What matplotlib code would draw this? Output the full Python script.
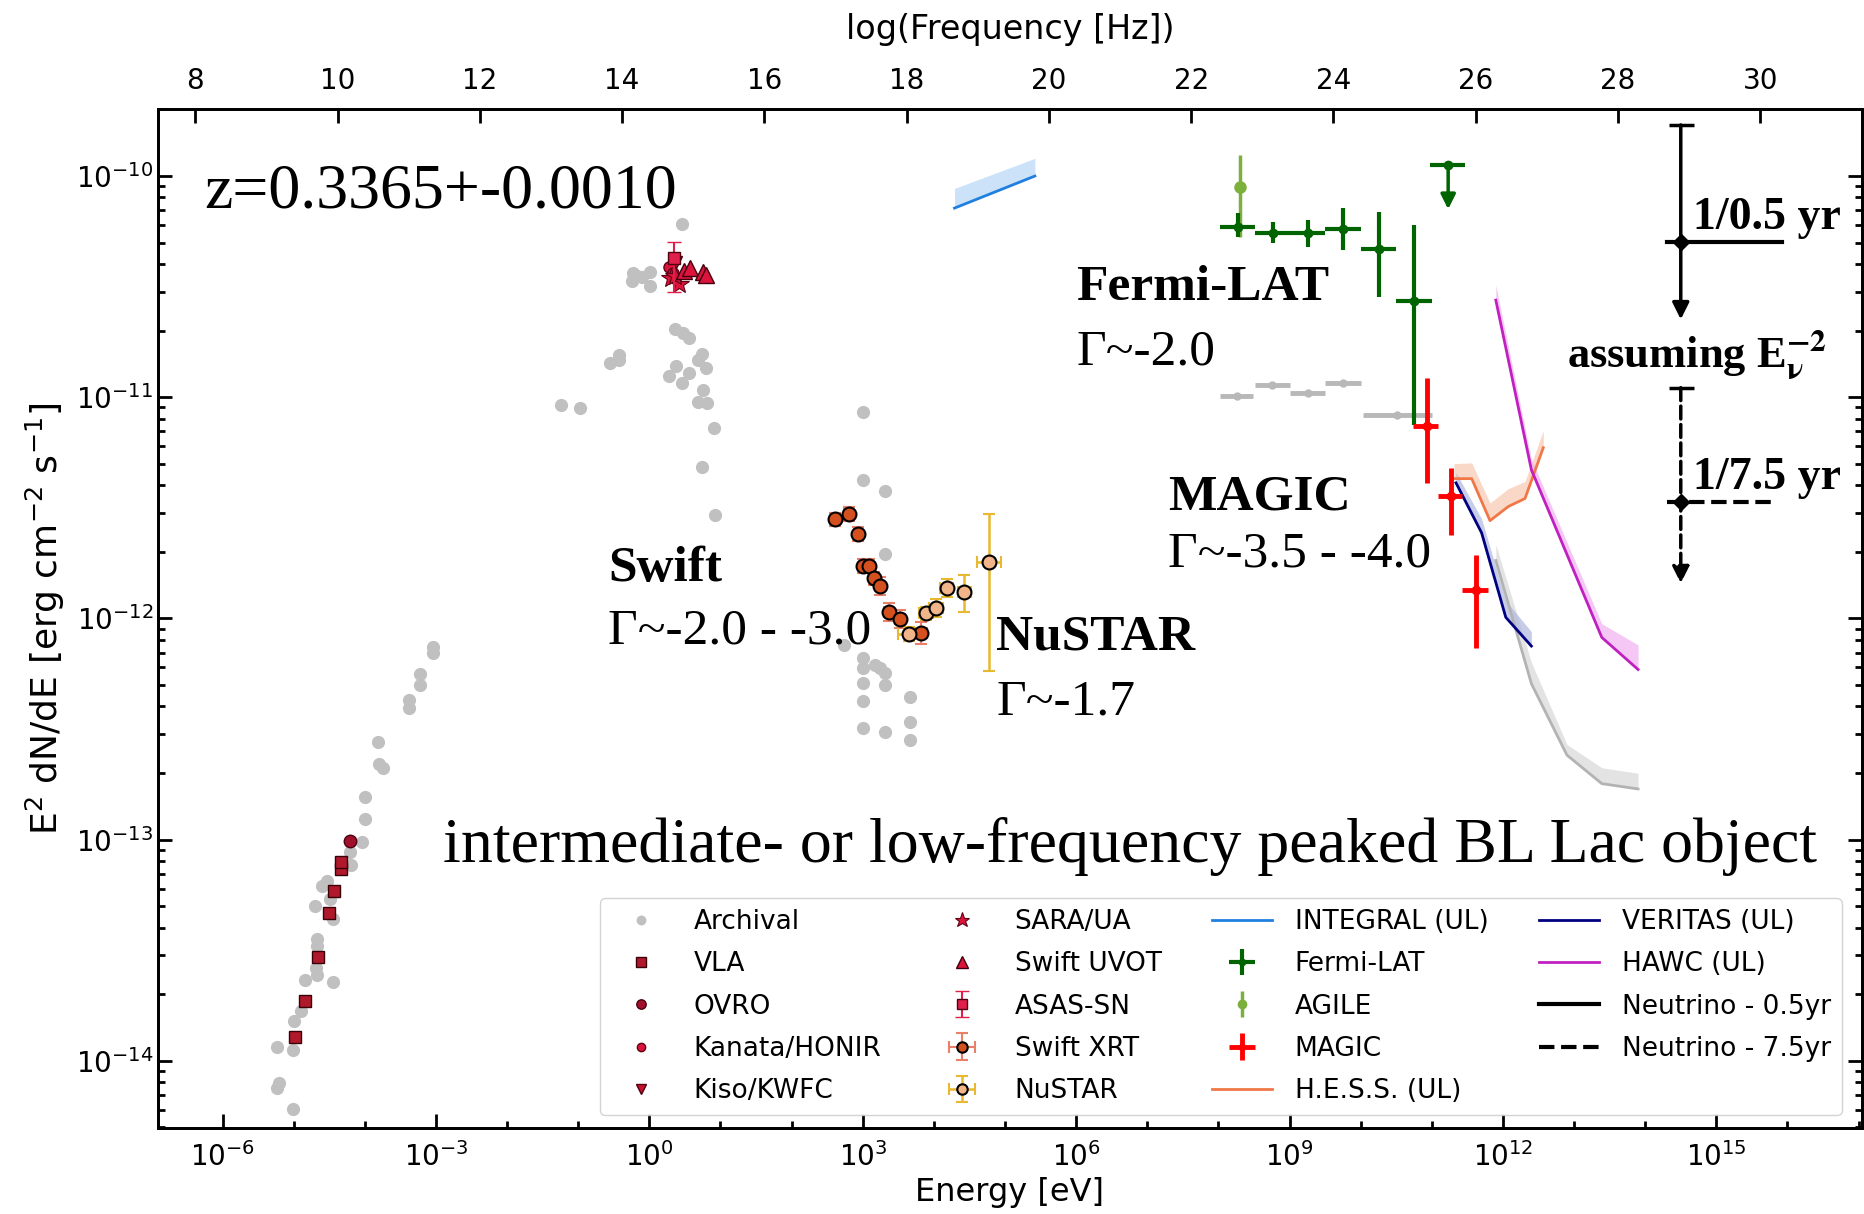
import numpy as np
import matplotlib
matplotlib.use("Agg")
import matplotlib.pyplot as plt

plt.rcParams['font.family'] = ['DejaVu Sans']

# ---- data (log10 E[eV], log10 E^2dN/dE) ----
arch_logE = [-3.046, -3.046, -3.225, -3.225, -3.384, -3.384, -3.815, -3.806, -3.740, -3.993,
             -3.993, -4.040, -4.209, -4.190, -4.603, -4.697, -4.453, -4.537, -4.49, -4.678,
             -4.678, -4.692, -4.678, -4.453, -4.837, -4.903, -4.997, -5.240, -5.015, -5.203,
             -5.240, -5.015,
             0.463, -0.226, -0.108, 0.008, 0.008, -0.249, -0.17, 0.36, 0.48, 0.56,
             0.735, 0.687, 0.80, -0.554, -0.432, -0.432, 0.37, 0.276, 0.463, 0.557,
             0.749, 0.687, 0.805, -1.247, -0.976, 0.913, 0.741, 0.922,
             3.007, 3.007, 3.317, 3.317, 2.736, 3.007, 3.007, 3.172, 3.242, 3.317,
             3.007, 3.317, 3.007, 3.664, 3.664, 3.007, 3.317, 3.664]
arch_logF = [-12.127, -12.158, -12.251, -12.302, -12.369, -12.403, -12.558, -12.659, -12.678, -12.809,
             -12.907, -13.012, -13.054, -13.113, -13.209, -13.299, -13.361, -13.186, -13.27, -13.450,
             -13.481, -13.581, -13.612, -13.643, -13.636, -13.775, -13.822, -13.938, -13.950, -14.101,
             -14.124, -14.217,
             -10.218, -10.440, -10.458, -10.433, -10.497, -10.473, -10.45, -10.693, -10.708, -10.734,
             -10.805, -10.832, -10.869, -10.847, -10.809, -10.832, -10.859, -10.904, -10.934, -10.892,
             -10.967, -11.020, -11.028, -11.037, -11.050, -11.141, -11.314, -11.533,
             -11.066, -11.374, -11.423, -11.709, -12.120, -12.178, -12.226, -12.211, -12.226, -12.248,
             -12.291, -12.301, -12.372, -12.357, -12.467, -12.497, -12.512, -12.550]

vla_logE = [-4.987, -4.842, -4.659, -4.509, -4.429, -4.340, -4.340]
vla_logF = [-13.891, -13.729, -13.530, -13.330, -13.233, -13.132, -13.101]
ovro_logE = [-4.209]
ovro_logF = [-13.008]
kanata_logE = [0.28, 0.33]
kanata_logF = [-10.41, -10.44]
kiso_logE = [0.38]
kiso_logF = [-10.39]
sara_logE = [0.30, 0.42, 0.36]
sara_logF = [-10.46, -10.49, -10.45]
uvot_logE = [0.49, 0.57, 0.75, 0.80]
uvot_logF = [-10.43, -10.417, -10.433, -10.448]
asas_logE = [0.35]
asas_logF = [-10.37]
asas_lo = [-10.523]
asas_hi = [-10.297]

xrt_logE = [2.614, 2.802, 2.928, 3.007, 3.092, 3.162, 3.242, 3.364, 3.523, 3.818]
xrt_logF = [-11.552, -11.528, -11.618, -11.763, -11.763, -11.819, -11.854, -11.970, -12.004, -12.065]
xrt_dF = [0.03, 0.03, 0.03, 0.03, 0.03, 0.03, 0.04, 0.04, 0.04, 0.05]
xrt_dE = [0.06, 0.06, 0.05, 0.05, 0.05, 0.05, 0.05, 0.06, 0.07, 0.08]

nu_logE = [3.654, 3.889, 4.029, 4.180, 4.428, 4.775]
nu_logF = [-12.071, -11.977, -11.954, -11.864, -11.879, -11.746]
nu_dF_lo = [0.03, 0.03, 0.04, 0.04, 0.09, 0.49]
nu_dF_hi = [0.03, 0.03, 0.04, 0.04, 0.075, 0.22]
nu_dE = [0.16, 0.10, 0.10, 0.09, 0.09, 0.17]

integral_logE = [4.29, 5.42]
integral_logF = [-10.145, -10.0]
integral_hi = [-10.056, -9.92]

fermi_logE = [8.271, 8.763, 9.259, 9.755, 10.257, 10.749]
fermi_logF = [-10.232, -10.256, -10.256, -10.238, -10.331, -10.565]
fermi_Elo = [8.022, 8.514, 9.01, 9.50, 10.0, 10.5]
fermi_Ehi = [8.514, 9.01, 9.50, 10.0, 10.5, 11.0]
fermi_Flo = [-10.277, -10.304, -10.320, -10.335, -10.546, -11.127]
fermi_Fhi = [-10.169, -10.207, -10.199, -10.146, -10.161, -10.222]
fermi_ul_logE = [11.23]
fermi_ul_logF = [-9.95]
fermi_ul_Elo = [10.98]
fermi_ul_Ehi = [11.47]
fermi_ul_tip = [-10.15]

agile_logE = [8.30]
agile_logF = [-10.05]
agile_Flo = [-10.274]
agile_Fhi = [-9.905]

fgrey_logE = [8.257, 8.757, 9.259, 9.755, 10.515]
fgrey_logF = [-10.995, -10.945, -10.982, -10.937, -11.08]
fgrey_Elo = [8.022, 8.514, 9.01, 9.50, 10.03]
fgrey_Ehi = [8.49, 9.0, 9.50, 10.0, 11.0]

magic_logE = [10.928, 11.265, 11.617]
magic_logF = [-11.131, -11.445, -11.872]
magic_Elo = [10.74, 11.09, 11.43]
magic_Ehi = [11.09, 11.43, 11.79]
magic_Flo = [-11.388, -11.625, -12.132]
magic_Fhi = [-10.911, -11.321, -11.712]

hess_logE = [11.312, 11.561, 11.818, 12.076, 12.310, 12.567]
hess_logF = [-11.368, -11.368, -11.558, -11.494, -11.458, -11.228]
hess_hi = [-11.300, -11.297, -11.478, -11.413, -11.381, -11.151]

veritas_logE = [11.34, 11.70, 12.04, 12.40]
veritas_logF = [-11.387, -11.613, -11.995, -12.125]
veritas_hi = [-11.34, -11.55, -11.92, -12.06]

hawc_logE = [11.90, 12.40, 13.39, 13.90]
hawc_logF = [-10.561, -11.328, -12.086, -12.231]
hawc_hi = [-10.493, -11.28, -12.024, -12.12]

sens_logE = [11.90, 12.40, 12.90, 13.39, 13.90]
sens_logF = [-11.738, -12.295, -12.618, -12.747, -12.771]
sens_hi = [-11.666, -12.199, -12.570, -12.675, -12.700]

neu_logE = [14.50, 14.50]
neu_logF = [-10.297, -11.473]
neu_top = [-9.769, -10.957]
neu_tip = [-10.648, -11.841]
neu_Elo = [14.30, 14.30]
neu_Ehi = [15.92, 15.82]
neu_labels = ['Neutrino - 0.5yr', 'Neutrino - 7.5yr']
neu_styles = ['-', '--']

def p(a):
    return 10 ** np.asarray(a, dtype=float)

fig = plt.figure(figsize=(18.65, 12.14), dpi=100)
ax = fig.add_axes([0.0847, 0.0708, 0.9137, 0.8394])
ax.set_xscale('log')
ax.set_yscale('log')

h = {}
h['Archival'] = ax.plot(p(arch_logE), p(arch_logF), 'o', color='#c0c0c0', ms=9.5, mew=0, label='Archival')[0]

# grey fermi bins (no legend entry)
x, y = p(fgrey_logE), p(fgrey_logF)
ax.errorbar(x, y, xerr=[x - p(fgrey_Elo), p(fgrey_Ehi) - x], fmt='o', color='#b8b8b8',
            ms=5, elinewidth=3.5, capsize=0)

h['VLA'] = ax.plot(p(vla_logE), p(vla_logF), 's', color='#b0182c', mec='#3a0008', mew=1, ms=9, label='VLA')[0]
h['OVRO'] = ax.plot(p(ovro_logE), p(ovro_logF), 'o', color='#a0102a', mec='#4a0010', mew=1, ms=9, label='OVRO')[0]
h['Kanata/HONIR'] = ax.plot(p(kanata_logE), p(kanata_logF), 'o', color='#dc143c', mec='#600015', mew=1, ms=8, label='Kanata/HONIR')[0]
h['Kiso/KWFC'] = ax.plot(p(kiso_logE), p(kiso_logF), 'v', color='#c8102e', mec='#500010', mew=1, ms=9, label='Kiso/KWFC')[0]
h['SARA/UA'] = ax.plot(p(sara_logE), p(sara_logF), '*', color='#dc143c', mec='#600015', mew=0.8, ms=15, label='SARA/UA')[0]
h['Swift UVOT'] = ax.plot(p(uvot_logE), p(uvot_logF), '^', color='#dc143c', mec='#400010', mew=1, ms=11, label='Swift UVOT')[0]
x, y = p(asas_logE), p(asas_logF)
h['ASAS-SN'] = ax.errorbar(x, y, yerr=[y - p(asas_lo), p(asas_hi) - y], fmt='s', color='#e0204a',
                           mec='#500010', ms=9, elinewidth=1.5, capsize=5, label='ASAS-SN')

x, y = p(xrt_logE), p(xrt_logF)
h['Swift XRT'] = ax.errorbar(x, y, yerr=[y - p(np.array(xrt_logF) - xrt_dF), p(np.array(xrt_logF) + xrt_dF) - y],
                             xerr=[x - p(np.array(xrt_logE) - xrt_dE), p(np.array(xrt_logE) + xrt_dE) - x],
                             fmt='o', color='#e8806a', mfc='#d4501e', mec='black', mew=1.5, ms=10,
                             elinewidth=1.5, capsize=4, label='Swift XRT', zorder=4)
x, y = p(nu_logE), p(nu_logF)
h['NuSTAR'] = ax.errorbar(x, y, yerr=[y - p(np.array(nu_logF) - nu_dF_lo), p(np.array(nu_logF) + nu_dF_hi) - y],
                          xerr=[x - p(np.array(nu_logE) - nu_dE), p(np.array(nu_logE) + nu_dE) - x],
                          fmt='o', color='#e8b830', mfc='#f2b58a', mec='black', mew=1.5, ms=10,
                          elinewidth=1.8, capsize=4, label='NuSTAR', zorder=4)

ax.fill_between(p(integral_logE), p(integral_logF), p(integral_hi), color='#a9d0f5', alpha=0.6, lw=0)
h['INTEGRAL (UL)'] = ax.plot(p(integral_logE), p(integral_logF), color='#1f80e0', lw=2, label='INTEGRAL (UL)')[0]

x, y = p(fermi_logE), p(fermi_logF)
h['Fermi-LAT'] = ax.errorbar(x, y, xerr=[x - p(fermi_Elo), p(fermi_Ehi) - x], yerr=[y - p(fermi_Flo), p(fermi_Fhi) - y],
                             fmt='o', color='#006400', ms=6, elinewidth=3, capsize=0, label='Fermi-LAT', zorder=5)
x, y = p(fermi_ul_logE), p(fermi_ul_logF)
ax.errorbar(x, y, xerr=[x - p(fermi_ul_Elo), p(fermi_ul_Ehi) - x], fmt='o', color='#006400', ms=6,
            elinewidth=3, capsize=0, zorder=5)
ax.annotate('', xy=(x[0], p(fermi_ul_tip)[0]), xytext=(x[0], y[0]),
            arrowprops=dict(arrowstyle='-|>', color='#006400', lw=2.5, mutation_scale=22, shrinkA=0, shrinkB=0))

x, y = p(agile_logE), p(agile_logF)
h['AGILE'] = ax.errorbar(x, y, yerr=[y - p(agile_Flo), p(agile_Fhi) - y], fmt='o', color='#7cb03c',
                         ms=8, elinewidth=2.5, capsize=0, label='AGILE', zorder=4)

x, y = p(magic_logE), p(magic_logF)
h['MAGIC'] = ax.errorbar(x, y, xerr=[x - p(magic_Elo), p(magic_Ehi) - x], yerr=[y - p(magic_Flo), p(magic_Fhi) - y],
                         fmt='o', color='#ff0000', ms=6, elinewidth=3.5, capsize=0, label='MAGIC', zorder=6)

ax.fill_between(p(sens_logE), p(sens_logF), p(sens_hi), color='#e3e3e3', lw=0)
ax.plot(p(sens_logE), p(sens_logF), color='#b3b3b3', lw=2)

ax.fill_between(p(hess_logE), p(hess_logF), p(hess_hi), color='#f8c8b0', alpha=0.7, lw=0)
h['H.E.S.S. (UL)'] = ax.plot(p(hess_logE), p(hess_logF), color='#f07848', lw=2, label='H.E.S.S. (UL)')[0]
ax.fill_between(p(veritas_logE), p(veritas_logF), p(veritas_hi), color='#b0b8e0', alpha=0.7, lw=0)
h['VERITAS (UL)'] = ax.plot(p(veritas_logE), p(veritas_logF), color='#000080', lw=2, label='VERITAS (UL)')[0]
ax.fill_between(p(hawc_logE), p(hawc_logF), p(hawc_hi), color='#f0b0f0', alpha=0.7, lw=0)
h['HAWC (UL)'] = ax.plot(p(hawc_logE), p(hawc_logF), color='#c020c0', lw=2, label='HAWC (UL)')[0]

for i in range(2):
    xe = p(neu_logE[i])
    h[neu_labels[i]] = ax.plot(p([neu_Elo[i], neu_Ehi[i]]), p([neu_logF[i], neu_logF[i]]), color='black',
                               lw=3, ls=neu_styles[i], label=neu_labels[i])[0]
    ax.annotate('', xy=(xe, p(neu_tip[i])), xytext=(xe, p(neu_top[i])),
                arrowprops=dict(arrowstyle='-|>', color='black', lw=2.5, ls=neu_styles[i],
                                mutation_scale=25, shrinkA=0, shrinkB=0))
    ax.plot([xe], [p(neu_top[i])], marker='_', color='black', ms=18, mew=2.5)
    ax.plot([xe], [p(neu_logF[i])], marker='D', color='black', ms=8)

ax.set_xlim(10 ** -6.908, 10 ** 17.048)
ax.set_ylim(10 ** -14.304, 10 ** -9.697)

ax.set_xticks(p([-6, -3, 0, 3, 6, 9, 12, 15]))
ax.xaxis.set_minor_locator(matplotlib.ticker.FixedLocator(p(np.arange(-6, 18))))
ax.xaxis.set_minor_formatter(matplotlib.ticker.NullFormatter())
ax.tick_params(axis='both', which='both', direction='in', width=2, labelsize=20)
ax.tick_params(axis='both', which='major', length=10)
ax.tick_params(axis='both', which='minor', length=5)
ax.tick_params(axis='y', which='both', right=True)
ax.tick_params(axis='x', which='major', pad=10)
for s in ax.spines.values():
    s.set_linewidth(2)
ax.set_xlabel('Energy [eV]', fontsize=23, labelpad=4)
ax.set_ylabel('E$^2$ dN/dE [erg cm$^{-2}$ s$^{-1}$]', fontsize=26, labelpad=6)

top = ax.twiny()
top.set_xlim(np.log10(ax.get_xlim()[0]) + 14.3835, np.log10(ax.get_xlim()[1]) + 14.3835)
top.set_xticks(np.arange(8, 31, 2))
top.tick_params(direction='in', length=10, width=2, labelsize=20, pad=10)
top.set_xlabel('log(Frequency [Hz])', fontsize=24, labelpad=20)
for s in top.spines.values():
    s.set_linewidth(2)

order = ['Archival', 'VLA', 'OVRO', 'Kanata/HONIR', 'Kiso/KWFC',
         'SARA/UA', 'Swift UVOT', 'ASAS-SN', 'Swift XRT', 'NuSTAR',
         'INTEGRAL (UL)', 'Fermi-LAT', 'AGILE', 'MAGIC', 'H.E.S.S. (UL)',
         'VERITAS (UL)', 'HAWC (UL)', 'Neutrino - 0.5yr', 'Neutrino - 7.5yr']
leg = ax.legend([h[k] for k in order], order, ncol=4, loc='lower right', bbox_to_anchor=(0.988, 0.013),
                borderaxespad=0, fontsize=19, handlelength=2.3, handletextpad=0.85, columnspacing=1.9,
                labelspacing=0.62, frameon=True, fancybox=True, framealpha=0.85, edgecolor='#cccccc',
                markerscale=0.75)
leg.set_zorder(10)

serif = 'Liberation Serif'
ax.text(0.027, 0.918, 'z=0.3365+-0.0010', transform=ax.transAxes, fontsize=46, family=serif, va='center')
ax.text(0.539, 0.824, 'Fermi-LAT', transform=ax.transAxes, fontsize=37, family=serif, weight='bold', va='center')
ax.text(0.539, 0.761, '\u0393~-2.0', transform=ax.transAxes, fontsize=37, family=serif, va='center')
ax.text(0.264, 0.549, 'Swift', transform=ax.transAxes, fontsize=37, family=serif, weight='bold', va='center')
ax.text(0.264, 0.488, '\u0393~-2.0 - -3.0', transform=ax.transAxes, fontsize=37, family=serif, va='center')
ax.text(0.492, 0.481, 'NuSTAR', transform=ax.transAxes, fontsize=37, family=serif, weight='bold', va='center')
ax.text(0.492, 0.418, '\u0393~-1.7', transform=ax.transAxes, fontsize=37, family=serif, va='center')
ax.text(0.593, 0.619, 'MAGIC', transform=ax.transAxes, fontsize=37, family=serif, weight='bold', va='center')
ax.text(0.593, 0.563, '\u0393~-3.5 - -4.0', transform=ax.transAxes, fontsize=37, family=serif, va='center')
ax.text(0.167, 0.276, 'intermediate- or low-frequency peaked BL Lac object', transform=ax.transAxes,
        fontsize=46, family=serif, va='center')
ax.text(0.901, 0.893, '1/0.5 yr', transform=ax.transAxes, fontsize=33, family=serif, weight='bold', va='center')
ax.text(0.901, 0.638, '1/7.5 yr', transform=ax.transAxes, fontsize=33, family=serif, weight='bold', va='center')
ax.text(0.827, 0.759, r'assuming E$_{\mathbf{\nu}}^{\mathbf{-2}}$', transform=ax.transAxes, fontsize=32,
        family=serif, weight='bold', va='center', math_fontfamily='stix')

fig.savefig('out.png', dpi=100)
